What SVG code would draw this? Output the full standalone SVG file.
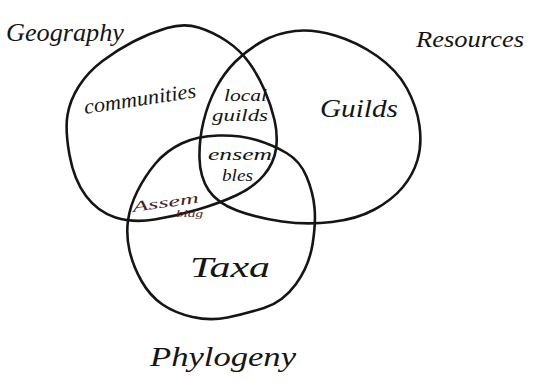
<svg xmlns="http://www.w3.org/2000/svg" width="533" height="382" viewBox="0 0 533 382">
<style>
.ring{fill:none;stroke:#151515;stroke-width:2.6;stroke-linejoin:round;stroke-linecap:round}
.t{font-family:"Liberation Serif","DejaVu Serif",serif;font-style:italic;fill:#151515}
.m{fill:#4a2222}
</style>
<rect width="533" height="382" fill="#ffffff"/>
<g id="geography">
<path class="ring" d="M69.5,155 Q65,130 67.5,115 Q70,100 79,86 Q88,72 102.5,61 Q117,50 133.5,41.5 Q150,33 167,28 Q184,23 198.5,27.5 Q213,32 226.5,41 Q240,50 249,62.5 Q258,75 264.5,90 Q271,105 274.5,120 Q278,135 276,149 Q274,163 264,175 Q254,187 237,195 Q220,203 198,209.5 Q176,216 154.5,219.5 Q133,223 115.5,217.5 Q98,212 86,196 Q74,180 69.5,155 Z"/>
<text class="t" x="6" y="41" font-size="26" textLength="118" lengthAdjust="spacingAndGlyphs">Geography</text>
</g>
<g id="resources">
<path class="ring" d="M216,88 Q224,73 235.5,61.5 Q247,50 262,41.5 Q277,33 295,31 Q313,29 335,35.5 Q357,42 377,56 Q397,70 407,88.5 Q417,107 419.5,126 Q422,145 417.5,160 Q413,175 402.5,187.5 Q392,200 374.5,209.5 Q357,219 332,222 Q307,225 282,221.5 Q257,218 237,210.5 Q217,203 208.5,190 Q200,177 199.5,158.5 Q199,140 203.5,121.5 Q208,103 216,88 Z"/>
<text class="t" x="416" y="47" font-size="24" textLength="108" lengthAdjust="spacingAndGlyphs">Resources</text>
</g>
<g id="phylogeny">
<path class="ring" d="M181.5,143.5 Q197,136 218.5,135.5 Q240,135 256.5,140 Q273,145 286.5,153 Q300,161 306.5,176.5 Q313,192 314.5,207.5 Q316,223 312.5,244.5 Q309,266 296,284 Q283,302 264,308 Q245,314 227.5,317.5 Q210,321 192.5,317 Q175,313 162.5,304.5 Q150,296 141.5,281 Q133,266 129.5,250.5 Q126,235 128,220.5 Q130,206 137.5,191 Q145,176 155.5,163.5 Q166,151 181.5,143.5 Z"/>
<text class="t" x="150" y="366" font-size="28" textLength="146" lengthAdjust="spacingAndGlyphs">Phylogeny</text>
</g>
<g id="communities">
<text class="t" x="85" y="114" font-size="21" textLength="113" lengthAdjust="spacingAndGlyphs" transform="rotate(-8.5 85 114)">communities</text>
</g>
<g id="local-guilds">
<text class="t" x="224" y="101" font-size="16" textLength="43" lengthAdjust="spacingAndGlyphs">local</text>
<text class="t" x="212" y="121" font-size="17" textLength="56" lengthAdjust="spacingAndGlyphs">guilds</text>
</g>
<g id="guilds">
<text class="t" x="320" y="117" font-size="25" textLength="78" lengthAdjust="spacingAndGlyphs">Guilds</text>
</g>
<g id="ensembles">
<text class="t" x="208" y="160" font-size="17" textLength="64" lengthAdjust="spacingAndGlyphs">ensem</text>
<text class="t" x="222" y="181" font-size="17" textLength="31" lengthAdjust="spacingAndGlyphs">bles</text>
</g>
<g id="assemblages">
<text class="t m" x="133" y="212" font-size="15" textLength="67" lengthAdjust="spacingAndGlyphs" transform="rotate(-8 133 212)">Assem</text>
<text class="t m" x="176" y="217" font-size="11" textLength="27" lengthAdjust="spacingAndGlyphs">blag</text>
</g>
<g id="taxa">
<text class="t" x="190" y="277" font-size="29" textLength="80" lengthAdjust="spacingAndGlyphs">Taxa</text>
</g>
</svg>
